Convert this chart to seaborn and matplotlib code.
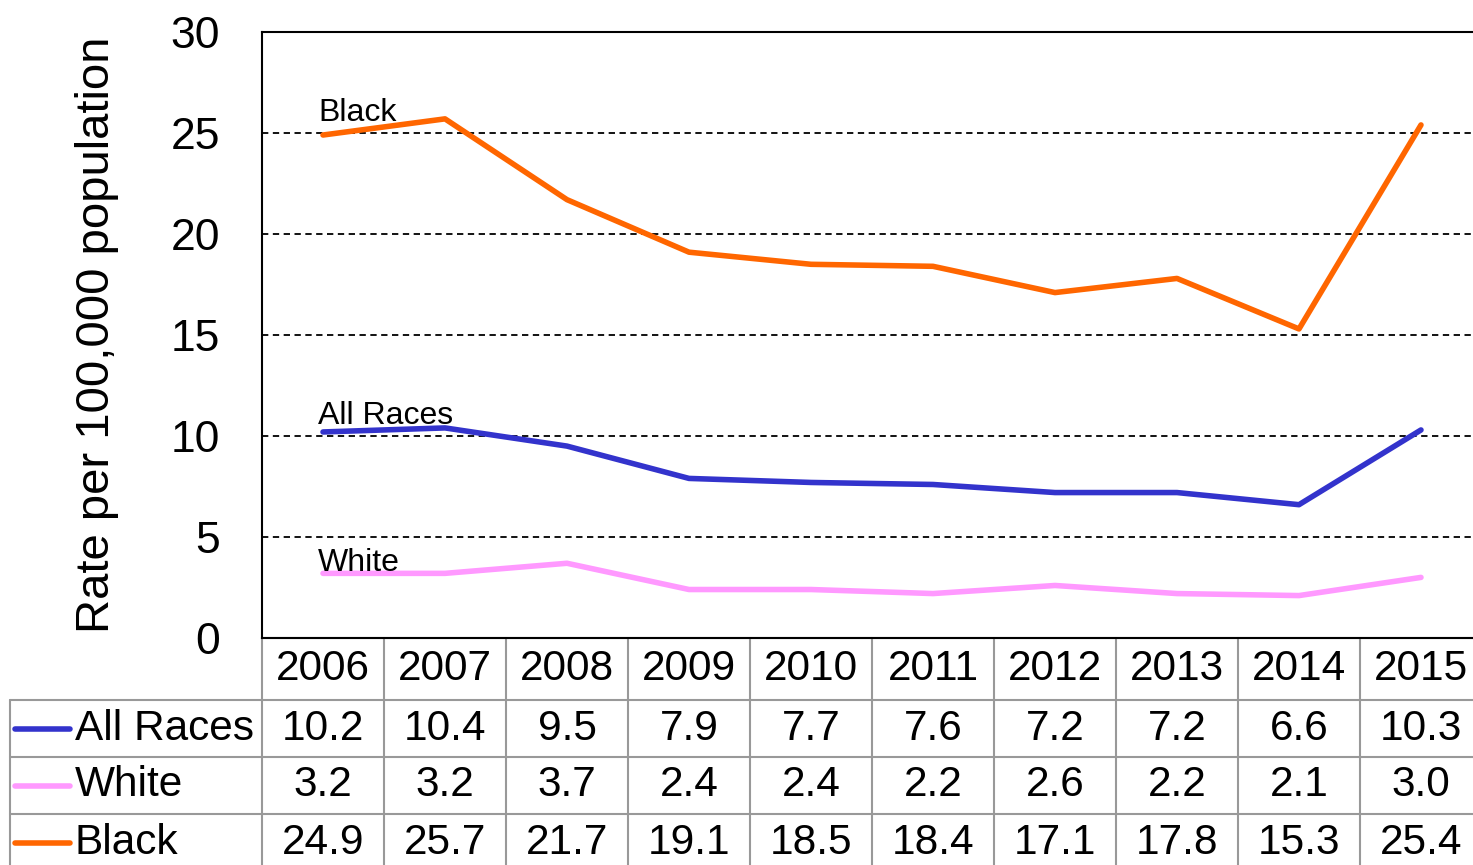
import pandas as pd
import seaborn as sns
import matplotlib.pyplot as plt
import matplotlib.transforms as mtransforms

# Data
years = [2006, 2007, 2008, 2009, 2010, 2011, 2012, 2013, 2014, 2015]
all_races = [10.2, 10.4, 9.5, 7.9, 7.7, 7.6, 7.2, 7.2, 6.6, 10.3]
white = [3.2, 3.2, 3.7, 2.4, 2.4, 2.2, 2.6, 2.2, 2.1, 3.0]
black = [24.9, 25.7, 21.7, 19.1, 18.5, 18.4, 17.1, 17.8, 15.3, 25.4]
series_names = ['All Races', 'White', 'Black']
series_colors = {'All Races': '#3333CC', 'White': '#FF99FF', 'Black': '#FF6600'}

df = pd.DataFrame({'year': years, 'All Races': all_races, 'White': white, 'Black': black})
long_df = df.melt(id_vars='year', var_name='group', value_name='rate')

sns.set_style('white')
plt.rcParams['font.family'] = ['Liberation Sans', 'DejaVu Sans']
plt.rcParams['text.color'] = 'black'
plt.rcParams['ytick.color'] = 'black'
plt.rcParams['axes.labelcolor'] = 'black'

fig = plt.figure(figsize=(14.73, 8.65), dpi=100)
# axes runs a little past the right edge of the image, as in the original
ax = fig.add_axes([262 / 1473, 227 / 865, 1220 / 1473, 606 / 865])

sns.lineplot(data=long_df, x='year', y='rate', hue='group', hue_order=series_names,
             palette=series_colors, linewidth=4, legend=False, ax=ax,
             solid_capstyle='round')

ax.set_xlim(years[0] - 0.5, years[-1] + 0.5)
ax.set_ylim(0, 30)
ax.set_yticks(range(0, 31, 5))
ax.set_xticks([])
ax.set_xlabel('')
ax.tick_params(axis='y', labelsize=32, length=0, pad=30, labelcolor='black')
ax.set_ylabel('Rate per 100,000 population', fontsize=34)
ax.yaxis.set_label_coords(-0.117, 0.5)

for y in range(5, 30, 5):
    ax.axhline(y, color='black', linestyle=(0, (3.5, 2.5)), linewidth=1.3, zorder=0)

for side in ['left', 'top', 'bottom']:
    ax.spines[side].set_visible(True)
    ax.spines[side].set_color('black')
    ax.spines[side].set_linewidth(1.5)
ax.spines['right'].set_visible(False)

# inline series labels
label_offsets = {'All Races': 0.4, 'White': 0.1, 'Black': 0.7}
for name in series_names:
    ax.text(years[0] - 0.04, df[name].iloc[0] + label_offsets[name], name,
            fontsize=23, ha='left', va='baseline', color='black')

# data table below the plot
grid_c = '#999999'
xt = ax.get_xaxis_transform()
ft = mtransforms.blended_transform_factory(fig.transFigure, ax.transAxes)
header_h = 62 / 606
row_h = 57 / 606
row_bottoms = [-header_h - row_h * (i + 1) for i in range(len(series_names))]

for i in range(len(years) + 1):
    ax.plot([years[0] - 0.5 + i] * 2, [0, -0.45], color=grid_c, lw=1.5,
            transform=xt, clip_on=False)
ax.plot([years[0] - 0.5, years[-1] + 0.5], [0, 0], color=grid_c, lw=1.5,
        transform=xt, clip_on=False, zorder=1)
for yb in [-header_h] + row_bottoms:
    ax.plot([10 / 1473, 1], [yb, yb], color=grid_c, lw=1.5, transform=ft, clip_on=False)
ax.plot([10 / 1473] * 2, [-header_h, -0.45], color=grid_c, lw=1.5, transform=ft, clip_on=False)

for yr in years:
    ax.text(yr, -header_h / 2, str(yr), fontsize=30.5, ha='center', va='center',
            transform=xt, color='black')

for r, name in enumerate(series_names):
    yc = -header_h - row_h * (r + 0.5)
    ax.plot([15 / 1473, 70 / 1473], [yc, yc], color=series_colors[name], lw=4,
            solid_capstyle='round', transform=ft, clip_on=False)
    ax.text(75 / 1473, yc, name, fontsize=30.5, ha='left', va='center', transform=ft,
            color='black')
    for yr, v in zip(years, df[name]):
        ax.text(yr, yc, f'{v:.1f}', fontsize=30.5, ha='center', va='center',
                transform=xt, color='black')

plt.savefig('out.png', dpi=100)
plt.close()
